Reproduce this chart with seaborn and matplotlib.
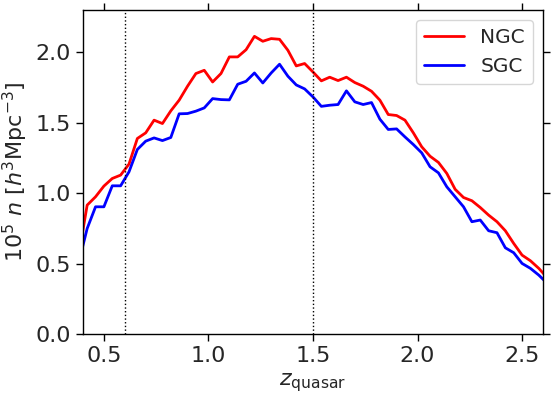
import pandas as pd
import matplotlib.pyplot as plt
import seaborn as sns

# redshift bin centres
z = [0.38, 0.42, 0.46, 0.50, 0.54, 0.58, 0.62, 0.66, 0.70, 0.74,
     0.78, 0.82, 0.86, 0.90, 0.94, 0.98, 1.02, 1.06, 1.10, 1.14,
     1.18, 1.22, 1.26, 1.30, 1.34, 1.38, 1.42, 1.46, 1.50, 1.54,
     1.58, 1.62, 1.66, 1.70, 1.74, 1.78, 1.82, 1.86, 1.90, 1.94,
     1.98, 2.02, 2.06, 2.10, 2.14, 2.18, 2.22, 2.26, 2.30, 2.34,
     2.38, 2.42, 2.46, 2.50, 2.54, 2.58, 2.62]

# 10^5 n(z) for each cap
ngc = [0.565, 0.915, 0.974, 1.050, 1.104, 1.128, 1.206, 1.388, 1.428, 1.518,
       1.494, 1.584, 1.660, 1.759, 1.849, 1.872, 1.789, 1.849, 1.967, 1.967,
       2.018, 2.113, 2.078, 2.097, 2.092, 2.014, 1.903, 1.920, 1.860, 1.797,
       1.823, 1.799, 1.823, 1.785, 1.759, 1.723, 1.660, 1.558, 1.551, 1.518,
       1.428, 1.329, 1.262, 1.218, 1.140, 1.027, 0.969, 0.946, 0.898, 0.844,
       0.797, 0.733, 0.643, 0.560, 0.520, 0.466, 0.400]
sgc = [0.510, 0.749, 0.903, 0.903, 1.052, 1.052, 1.151, 1.310, 1.369, 1.392,
       1.373, 1.395, 1.563, 1.565, 1.582, 1.605, 1.671, 1.664, 1.662, 1.773,
       1.794, 1.853, 1.782, 1.853, 1.915, 1.830, 1.768, 1.740, 1.683, 1.616,
       1.624, 1.629, 1.726, 1.648, 1.629, 1.643, 1.525, 1.452, 1.456, 1.399,
       1.345, 1.286, 1.187, 1.144, 1.045, 0.974, 0.903, 0.797, 0.809, 0.733,
       0.719, 0.612, 0.577, 0.501, 0.466, 0.418, 0.360]

# redshift cuts
z_cuts = [0.6, 1.5]

df = pd.DataFrame({
    "z": z * 2,
    "n": ngc + sgc,
    "cap": ["NGC"] * len(z) + ["SGC"] * len(z),
})

sns.set_style("ticks")
plt.rcParams['font.family'] = ['DejaVu Sans']

fig = plt.figure(figsize=(5.54, 3.95), dpi=100)
ax = fig.add_axes([0.1498, 0.1544, 0.8303, 0.8203])

sns.lineplot(data=df, x="z", y="n", hue="cap",
             palette={"NGC": "red", "SGC": "blue"},
             linewidth=2, ax=ax)

for zc in z_cuts:
    ax.axvline(zc, color="black", linestyle=":", linewidth=1)

ax.set_xlim(0.4, 2.6)
ax.set_ylim(0, 2.3)
ax.set_xticks([0.5, 1.0, 1.5, 2.0, 2.5])
ax.set_yticks([0.0, 0.5, 1.0, 1.5, 2.0])
ax.tick_params(axis="both", which="major", labelsize=16, direction="out",
               length=5, width=1, top=True, right=True, color="black")
for s in ax.spines.values():
    s.set_color("black")
    s.set_linewidth(1)

ax.set_xlabel(r"$z_{\rm quasar}$", fontsize=16)
ax.set_ylabel(r"$10^5\ n\ [h^3{\rm Mpc}^{-3}]$", fontsize=16)

ax.legend(loc="upper right", fontsize=14.5, frameon=True)

plt.savefig("out.png", dpi=100)
